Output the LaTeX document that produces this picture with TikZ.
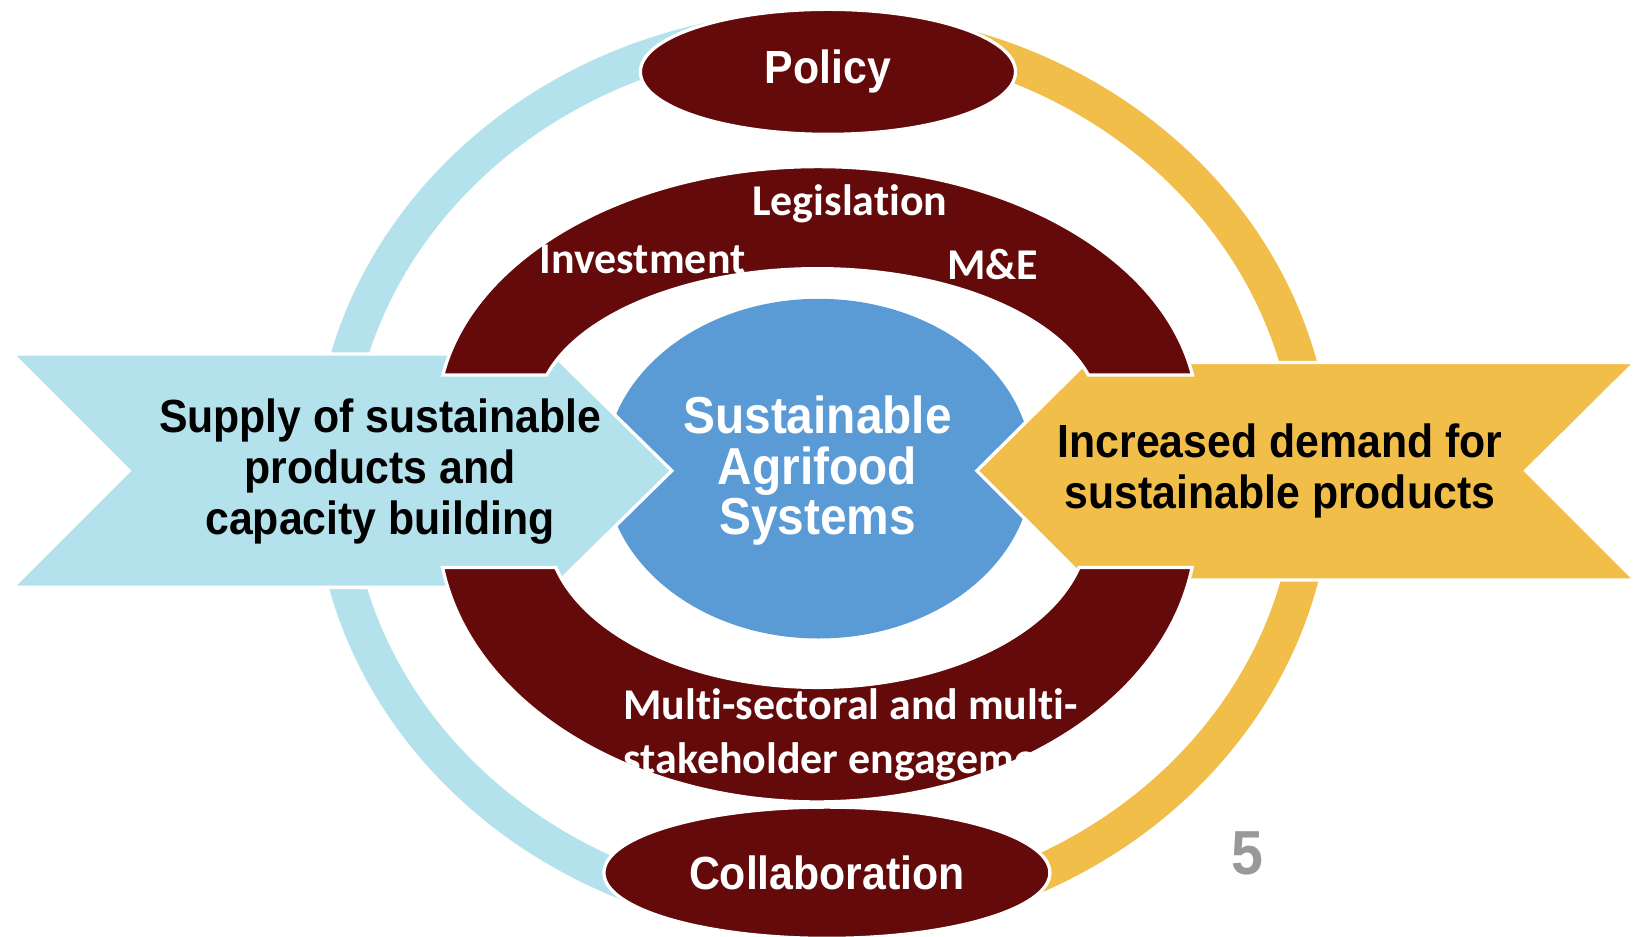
\documentclass[tikz,border=0pt]{standalone}
\usepackage{fontspec}
\newfontfamily\arialn[FakeStretch=0.92]{Liberation Sans}
\newfontfamily\calib[Ligatures=NoCommon]{Carlito}
\usetikzlibrary{shapes,positioning,calc}
\definecolor{darkred}{RGB}{100,10,10}
\definecolor{ringblue}{RGB}{180,226,236}
\definecolor{ringgold}{RGB}{242,190,74}
\definecolor{coreblue}{RGB}{91,155,213}
\definecolor{pagegray}{RGB}{153,153,153}

\begin{document}
\begin{tikzpicture}[x=0.01cm,y=0.01cm,
outline/.style={draw=white,line width=0.9pt},
ringarc/.style={line width=0.35cm}]

\tikzstyle{oval}=[ellipse, fill=darkred, outline, inner sep=0pt, text=white,
font=\arialn\bfseries\fontsize{12.7}{14}\selectfont]
\tikzstyle{arrowtext}=[align=center, text=black,
font=\arialn\bfseries\fontsize{12.7}{14}\selectfont]
\tikzstyle{archtext}=[text=white, inner sep=0pt,
font=\calib\bfseries\fontsize{12}{14.5}\selectfont]

\useasboundingbox (0,0) rectangle (1568,899);

%outer ring
\draw[ringblue, ringarc] (790,871.5) arc[start angle=90, end angle=270, x radius=471.5, y radius=427.5];
\draw[ringgold, ringarc] (790,16.5) arc[start angle=-90, end angle=90, x radius=471.5, y radius=427.5];

\node[oval, minimum width=3.6cm, minimum height=1.2cm] (policy) at (795,830) {Policy};
\node[oval, minimum width=4.28cm, minimum height=1.26cm] (collab) at (794,61) {Collaboration};

%core
\node[ellipse, fill=coreblue, minimum width=4.1cm, minimum height=3.26cm, inner sep=0pt,
align=center, text=white, font=\arialn\bfseries\fontsize{14.2}{13.8}\selectfont]
(core) at (786,449) {};
\node[align=center, text=white, font=\arialn\bfseries\fontsize{14.2}{13.8}\selectfont]
(coretext) at (785,447) {Sustainable\\Agrifood\\Systems};

%chevrons
\fill[ringblue, outline] (12,559) -- (531,559) -- (645,447) -- (531,335) -- (12,335) -- (124,447) -- cycle;
\fill[ringgold, outline] (1570,551) -- (1043,551) -- (938,447) -- (1043,342) -- (1570,342) -- (1465,447) -- cycle;

%arches
\fill[darkred, outline] (1145,539) arc[start angle=9.59, end angle=170.41, x radius=365, y radius=240]
-- (525,539) arc[start angle=163.64, end angle=16.36, x radius=271, y radius=142] -- cycle;
\fill[darkred, outline] (425,354) arc[start angle=188.68, end angle=351.32, x radius=364, y radius=265]
-- (1036,354) arc[start angle=345.04, end angle=194.96, x radius=260, y radius=155] -- cycle;

\node[archtext] (legis) at (816,703) {Legislation};
\node[archtext] (invest) at (617,650) {Investment};
\node[archtext] (mande) at (953,645) {M\&E};
\node[archtext, anchor=north west, align=left] (engage) at (598,238)
{Multi-sectoral and multi-\\stakeholder engagement};

\node[arrowtext] (supply) at (365,446) {Supply of sustainable\\products and\\capacity building};
\node[arrowtext] (demand) at (1229,447) {Increased demand for\\sustainable products};

\node[text=pagegray, font=\arialn\bfseries\fontsize{17}{17}\selectfont] (page) at (1198,80) {5};

\end{tikzpicture}
\end{document}
